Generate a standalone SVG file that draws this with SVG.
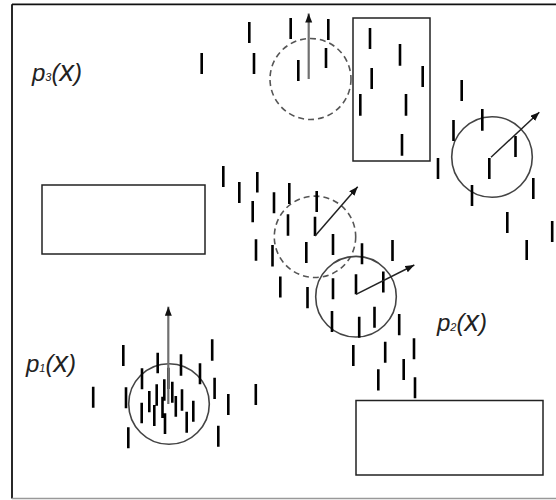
<svg xmlns="http://www.w3.org/2000/svg" width="556" height="500" viewBox="0 0 556 500">
<defs>
<marker id="ah" markerUnits="userSpaceOnUse" markerWidth="10" markerHeight="8" refX="9" refY="3.5" orient="auto">
<path d="M0,0 L9,3.5 L0,7 z" fill="#111"/>
</marker>
<style>
.lbl{font-family:"Liberation Sans",Arial,sans-serif;font-style:italic;font-size:24px;fill:#222}
.sub{font-size:11px}
.big{font-size:29px}
.box{fill:none;stroke:#222;stroke-width:1.5}
.cs{fill:none;stroke:#444;stroke-width:1.6}
.cd{fill:none;stroke:#555;stroke-width:1.6;stroke-dasharray:6 4}
.tk{fill:none;stroke:#000;stroke-width:2.6}
.ag{fill:none;stroke:#707070;stroke-width:2.2}
.ad{fill:none;stroke:#222;stroke-width:1.5}
</style>
</defs>
<rect width="556" height="500" fill="#fff"/>
<g id="frame">
<line x1="12" y1="4.3" x2="556" y2="4.3" stroke="#111" stroke-width="1.8"/>
<line x1="12" y1="4.3" x2="12" y2="498.5" stroke="#111" stroke-width="1.8"/>
<line x1="12" y1="498.5" x2="556" y2="498.5" stroke="#999" stroke-width="1.5"/>
</g>
<g id="label-p3"><text class="lbl" x="32" y="81">p<tspan class="sub">3</tspan>(<tspan class="big">x</tspan>)</text></g>
<g id="label-p1"><text class="lbl" x="26" y="372">p<tspan class="sub">1</tspan>(<tspan class="big">x</tspan>)</text></g>
<g id="label-p2"><text class="lbl" x="437" y="331">p<tspan class="sub">2</tspan>(<tspan class="big">x</tspan>)</text></g>
<g id="rect-top"><rect class="box" x="353" y="18" width="77" height="143"/></g>
<g id="rect-left"><rect class="box" x="42" y="185" width="163" height="69"/></g>
<g id="rect-bottom"><rect class="box" x="356" y="400.5" width="187" height="74.5"/></g>
<g id="circle-top"><circle class="cd" cx="310.5" cy="79" r="40.5"/></g>
<g id="circle-right"><circle class="cs" cx="492" cy="157" r="40.3"/></g>
<g id="circle-mid-dashed"><circle class="cd" cx="315" cy="236.8" r="40.7"/></g>
<g id="circle-mid"><circle class="cs" cx="356" cy="296.7" r="40.3"/></g>
<g id="circle-bottom-left"><circle class="cs" cx="169" cy="404" r="40.3"/></g>
<g id="ticks">
<path class="tk" d="M201.7 53V74 M249.3 22V43 M254 53V74 M290.7 18V39 M328.3 19V40 M298.3 60V81 M326 48V68 M370 28V49 M400 44V65.7 M371.7 68V89 M422.7 66V87 M360.3 94V115.7 M406 94V115.7 M402 134V155.7 M438 158V179 M461.7 80V101 M482.3 109V130.7 M453.5 120V141 M515.5 136V157 M489.3 158V179 M533.3 178V199 M472 185V206 M507.3 212V233 M552.2 221V242 M526.7 240V260"/>
<path class="tk" d="M223.3 166V187 M239.3 182V203 M257.3 172V192.5 M252.7 201V222.3 M274 192.3V213.3 M289.3 183V204 M288 214.3V235.7 M316.7 191V212 M315 216.7V236 M333 234V255 M256 239.3V260.7 M272.5 245V266.5 M306.3 242V263 M362 243.3V264.3 M392.5 240V261 M280.3 276.5V297.5 M307.5 287V308.3 M333 278.3V299.3 M356 274.3V294.3 M383.3 271.5V292.5 M332 311V332 M359.2 316.7V337.7 M374.5 306.7V327.7 M399.2 314V335.3 M353.3 345V366 M385.2 341.7V362.7 M414 338.3V359.3 M403.7 359V380 M378.3 369.3V390.5 M415 377.3V398.3"/>
<path class="tk" d="M123.3 345V366 M157.7 352.7V373.3 M181 354.3V375.7 M212.2 339.3V360.7 M142 368.3V389.3 M200 363.3V384.3 M168.3 367.7V389 M93.2 386.7V407.7 M126 387.3V408.3 M214.6 377.7V399 M228.3 394V415 M255.8 384V405 M149.3 391V412.3 M156.7 384.3V405.7 M164.3 379.3V400.7 M172.3 381.7V402.7 M182 389.3V410.7 M175.8 396V416.7 M162.5 396.7V418 M141.7 402.7V423.3 M154.3 405V426 M165 413.3V434 M186.7 411.7V432.7 M193.3 400.7V421.7 M128.3 427.3V448.3 M218.3 425.7V446.7"/>
</g>
<g id="connectors">
<line class="ag" x1="308.7" y1="79" x2="308.7" y2="13.5" marker-end="url(#ah)"/>
<line class="ad" x1="491" y1="157.3" x2="539.3" y2="112.3" marker-end="url(#ah)"/>
<line class="ad" x1="315" y1="236" x2="357.7" y2="186.7" marker-end="url(#ah)"/>
<line class="ad" x1="356" y1="294.3" x2="414.3" y2="265" marker-end="url(#ah)"/>
<line class="ag" x1="168.3" y1="404" x2="168.3" y2="306.7" marker-end="url(#ah)"/>
</g>
</svg>
